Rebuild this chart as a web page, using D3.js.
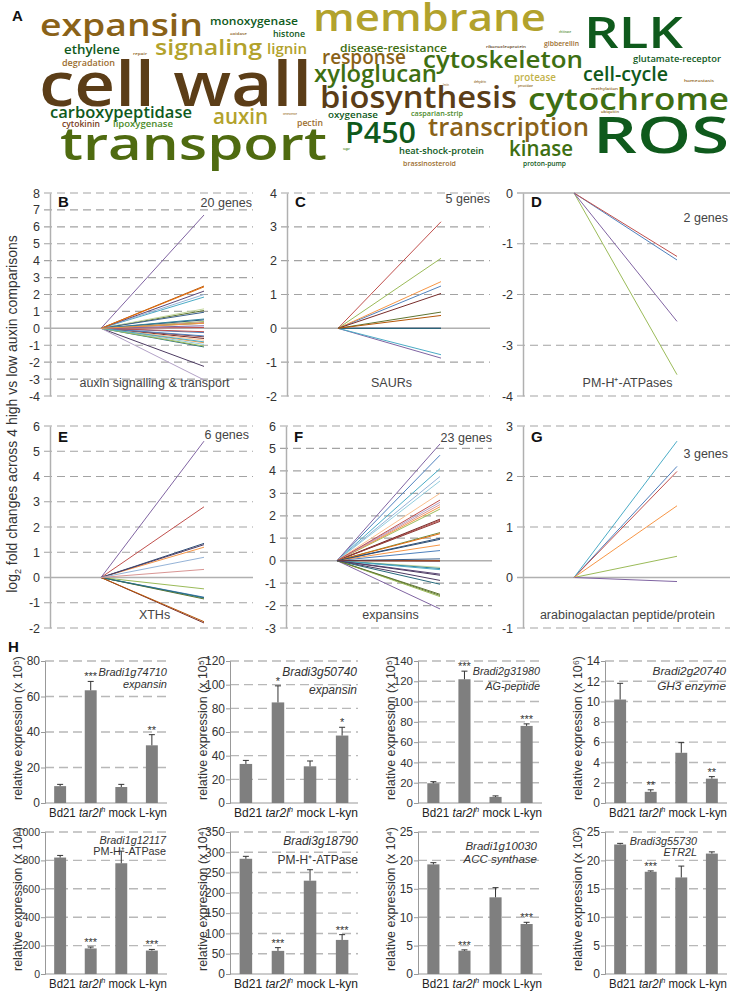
<!DOCTYPE html>
<html>
<head>
<meta charset="utf-8">
<script src="https://cdn.jsdelivr.net/npm/d3@7"></script>
<style>
  body { margin: 0; background: #fff; }
  svg text { font-family: "Liberation Sans", Arial, Helvetica, sans-serif; }
</style>
</head>
<body>
<div id="fig"></div>
<script>
const W = 732, H = 991;

// ---------- A: word cloud ----------
const cloudWords = ["cell wall","transport","membrane","ROS","RLK","expansin","cytochrome","biosynthesis",
  "transcription","cytoskeleton","xyloglucan","P450","signaling","auxin","kinase","cell-cycle","response",
  "carboxypeptidase","lignin","ethylene","monoxygenase","disease-resistance","protease","histone",
  "glutamate-receptor","heat-shock-protein","oxygenase","degradation","pectin","cytokinin","lipoxygenase",
  "gibberellin","casparian-strip","brassinosteroid","proton-pump","ribonucleoprotein","homeostasis",
  "methylation","ubiquitin","oxidase","repair","chitinase","senescence","sugar","lectin","dehydrin","peroxidase"];
const cloudCounts = [62,46,37,50,44,30,31,30,26,24,24,28,21,21,21,20,20,16,14,12,11,11,10,9.5,9.5,9.5,9.5,
  9,9,8.5,8.5,7.5,7.5,7.5,7.5,4,4,4,4,3.5,3.5,3,3,3,3,3,3];

// ---------- B-G: log2 fold changes ----------
const lineLetters = ["B","C","D","E","F","G"];
const lineGenes = ["20 genes","5 genes","2 genes","6 genes","23 genes","3 genes"];
const lineGroups = ["auxin signalling & transport","SAURs","PM-H\u207A-ATPases","XTHs","expansins","arabinogalactan peptide/protein"];
const lineDomains = [[-4,8],[-2,4],[-4,0],[-2,6],[-3,6],[-1,3]];
const foldB = [-0.25,0.05,0.4,6.7,1.85,-0.85,0.5,-0.6,1.05,-2.25,-1.1,2.5,2.0,0.35,1.15,-3.05,-0.95,-0.7,
  0.95,-0.5,0.3,2.2,0.55,2.45,-0.45,-0.2,-1.05,0.15,-0.8,0.3];
const foldC = [1.25,3.15,2.07,-0.88,-0.78,1.38,0.0,1.03,0.48,0.0,0.0,0.38];
const foldD = [-1.32,-1.25,-3.58,-2.53];
const foldE = [-0.78,2.8,-0.45,5.4,-0.82,1.2,1.35,-1.8,-0.85,1.3,-0.8,-1.75,0.8,0.32];
const foldF = [4.7,1.8,2.3,5.2,4.1,2.4,1.0,1.85,-1.55,-0.88,-1.05,0.0,3.75,2.5,-0.3,2.6,3.55,3.0,
  0.08,1.75,1.25,-0.6,-0.35,1.2,0.45,2.7,-1.6,-2.15,-0.4,0.7,0.95,-0.02,-1.5,-0.65];
const foldG = [2.2,2.1,0.42,-0.08,2.7,1.42];

// ---------- H: qRT-PCR bars ----------
const barCats = ["Bd21","tar2lh","mock","L-kyn"];
const barGenes = ["Bradi1g74710","Bradi3g50740","Bradi2g31980","Bradi2g20740",
  "Bradi1g12117","Bradi3g18790","Bradi1g10030","Bradi3g55730"];
const barNames = ["expansin","expansin","AG-peptide","GH3 enzyme","PM-H\u207A-ATPase","PM-H\u207A-ATPase","ACC synthase","ETR2L"];
const barExp = ["\u2075","\u2075","\u2075","\u2076","\u2074","\u2074","\u2074","\u00B2"];
const barMeans = [[9.5,63.5,9,32.5],[33,85,31,57],[19.5,122,6,76],[10.2,1.1,4.95,2.4],
  [820,180,780,165],[284,57,230,84],[19.3,4.1,13.5,8.8],[22.8,18,17,21.2]];
const barErrs = [[1,5,1.5,6],[3,14,4.5,7],[1.5,8,1,2],[1.6,0.2,1,0.2],
  [15,10,85,8],[6,8,27,13],[0.3,0.15,1.7,0.3],[0.2,0.15,2,0.3]];
const barStars = [["","***","","**"],["","*","","*"],["","***","","***"],["","**","","**"],
  ["","***","","***"],["","***","","***"],["","***","","***"],["","***","",""]];
const barMax = [80,120,140,14,1000,350,25,25];
const barStep = [20,20,20,2,200,50,5,5];

// ---------- layout & styles ----------
const cloudTones = ["#5b3d17","#8a6218","#b2a22c","#0f5a1c","#3e6f12","#4b8b2b","#9c6e2e","#7a3c1c","#4f6b10","#c2b24a"];
const cloudLayout = [
  [39,106,273,0],[60,160,267,8],[313,31,233,2],[593,153,136,3],[584,48,99,3],[40,36,163,1],
  [528,110,201,4],[320,108,197,0],[428,136,161,1],[423,68,160,4],[314,82,123,4],[345,143,71,3],
  [155,55,107,2],[213,124,55,2],[509,156,64,4],[583,81,85,3],[322,64,84,1],[50,118,142,3],
  [267,54,40,2],[64,54,56,3],[210,25,88,3],[340,52,107,4],[514,81,42,9],[273,37,32,3],
  [633,62,88,3],[399,154,85,3],[328,118,50,3],[62,66,53,6],[297,126,26,6],[62,127,38,7],
  [113,127,60,5],[544,46,35,6],[411,116,52,5],[403,166,53,6],[523,166,43,3],[486,48,40,0],
  [684,82,30,1],[591,90,27,1],[601,113,18,1],[230,35,17,1],[133,55,14,1],[559,33,12,5],
  [283,115,14,6],[343,150,7,5],[443,86,6,6],[474,83,12,1],[518,87,15,1]
];
const lineColors = ["#4f81bd","#c0504d","#9bbb59","#8064a2","#4bacc6","#f79646",
  "#2c4d75","#772c2a","#5f7530","#4d3b62","#276a7c","#b65708",
  "#95b3d7","#d99694","#c3d69b","#b3a2c7","#93cddd","#fac08f",
  "#3a5f8b","#8f3b38","#71893f","#5c4776","#31849b","#e46c0a"];
const linePos = [
  {x0:50, x1:253, top:193, bottom:396, gx:252, gy:14},
  {x0:287,x1:490, top:193, bottom:396, gx:490, gy:10},
  {x0:523,x1:730, top:193, bottom:396, gx:728, gy:29},
  {x0:50, x1:253, top:426, bottom:628, gx:249, gy:13},
  {x0:286,x1:492, top:426, bottom:628, gx:492, gy:16},
  {x0:523,x1:730, top:426, bottom:628, gx:728, gy:32}
];
const barPos = [
  {x0:45, x1:167, top:661, bottom:803, tx:167, ty:[676,688], fs:11,   tk:12},
  {x0:230,x1:358, top:661, bottom:803, tx:357, ty:[676,694], fs:12,   tk:12},
  {x0:418,x1:542, top:661, bottom:803, tx:540, ty:[675,690], fs:10.8, tk:11.5},
  {x0:605,x1:727, top:661, bottom:803, tx:726, ty:[675,690], fs:11.8, tk:12},
  {x0:45, x1:167, top:832, bottom:974, tx:166, ty:[844,855], fs:10.8, tk:10.5},
  {x0:230,x1:358, top:832, bottom:974, tx:358, ty:[845,864], fs:12,   tk:12},
  {x0:418,x1:542, top:832, bottom:974, tx:537, ty:[850,863], fs:11.5, tk:12},
  {x0:605,x1:727, top:832, bottom:974, tx:697, ty:[845,856], fs:10.8, tk:12}
];

const svg = d3.select("#fig").append("svg")
  .attr("width", W).attr("height", H)
  .style("background", "#fff");

// panel letters A and H
svg.append("text").attr("x", 12).attr("y", 21).attr("font-size", 15).attr("font-weight", "bold").attr("fill", "#111").text("A");
svg.append("text").attr("x", 8).attr("y", 652).attr("font-size", 15).attr("font-weight", "bold").attr("fill", "#111").text("H");

// word cloud
const fontScale = d3.scaleLinear().domain([0, d3.max(cloudCounts)]).range([0, 62]);
svg.append("g").selectAll("text")
  .data(cloudWords)
  .join("text")
  .attr("x", (d, i) => cloudLayout[i][0])
  .attr("y", (d, i) => cloudLayout[i][1])
  .attr("textLength", (d, i) => cloudLayout[i][2])
  .attr("lengthAdjust", "spacingAndGlyphs")
  .attr("font-size", (d, i) => fontScale(cloudCounts[i]))
  .attr("fill", (d, i) => cloudTones[cloudLayout[i][3]])
  .attr("font-weight", 600)
  .style("font-family", "'Open Sans', sans-serif")
  .text(d => d);

// shared y label of B-G
const ylab = svg.append("text")
  .attr("transform", "translate(17,414) rotate(-90)")
  .attr("text-anchor", "middle")
  .attr("font-size", 14)
  .attr("fill", "#333");
ylab.append("tspan").text("log");
ylab.append("tspan").attr("dy", 4).attr("font-size", 9).text("2");
ylab.append("tspan").attr("dy", -4).text(" fold changes across 4 high vs low auxin comparisons");

// line panels
const foldSets = [foldB, foldC, foldD, foldE, foldF, foldG];
const color = d3.scaleOrdinal().range(lineColors);

foldSets.forEach(function(vals, k) {
  const p = linePos[k];
  const dom = lineDomains[k];
  const y = d3.scaleLinear().domain(dom).range([p.bottom, p.top]);
  const x = d3.scaleLinear().domain([0, 1]).range([p.x0 + 51, p.x0 + 154]);
  const ticks = d3.range(dom[0], dom[1] + 1);
  const g = svg.append("g");

  // gridlines
  g.selectAll("line.grid")
    .data(ticks.filter(t => t !== 0))
    .join("line")
    .attr("x1", p.x0 - 6).attr("x2", p.x1)
    .attr("y1", d => y(d)).attr("y2", d => y(d))
    .attr("stroke", "#a3a3a3").attr("stroke-width", 1.2)
    .attr("stroke-dasharray", "8,5");

  g.append("line")
    .attr("x1", p.x0 - 6).attr("x2", p.x1)
    .attr("y1", y(0)).attr("y2", y(0))
    .attr("stroke", "#b0b0b0").attr("stroke-width", 1.5);

  const ax = g.append("g")
    .attr("transform", "translate(" + p.x0 + ",0)")
    .call(d3.axisLeft(y).tickValues(ticks).tickSize(0).tickPadding(10).tickFormat(d => String(d)));
  ax.select(".domain").attr("stroke", "#b0b0b0").attr("stroke-width", 1.5);
  ax.selectAll("text").attr("font-size", 12.5).attr("fill", "#333")
    .style("font-family", "'Liberation Sans', Arial, sans-serif");

  // gene lines
  g.selectAll("line.gene")
    .data(vals)
    .join("line")
    .attr("x1", x(0)).attr("y1", y(0))
    .attr("x2", x(1)).attr("y2", d => y(d))
    .attr("stroke", (d, i) => color(i))
    .attr("stroke-width", 1);

  g.append("text")
    .attr("x", p.x0 + 8).attr("y", p.top + (k < 3 ? 14 : 16))
    .attr("font-size", 15).attr("font-weight", "bold").attr("fill", "#111")
    .text(lineLetters[k]);

  g.append("text")
    .attr("x", p.gx).attr("y", p.top + p.gy)
    .attr("text-anchor", "end")
    .attr("font-size", 12.5).attr("fill", "#444")
    .text(lineGenes[k]);

  g.append("text")
    .attr("x", (x(0) + x(1)) / 2 + 2).attr("y", p.bottom - 9)
    .attr("text-anchor", "middle")
    .attr("font-size", 12.5).attr("fill", "#444")
    .text(lineGroups[k]);
});

// bar panels
barMeans.forEach(function(means, k) {
  const p = barPos[k];
  const y = d3.scaleLinear().domain([0, barMax[k]]).range([p.bottom, p.top]);
  const x = d3.scaleBand().domain(barCats).range([p.x0, p.x1]).paddingInner(0.61).paddingOuter(0.3);
  const ticks = d3.range(0, barMax[k] + barStep[k] / 2, barStep[k]);
  const g = svg.append("g");
  const rows = barCats.map((c, i) => ({cat: c, v: means[i], e: barErrs[k][i], s: barStars[k][i]}));

  g.selectAll("line.grid")
    .data(ticks.filter(t => t > 0))
    .join("line")
    .attr("x1", p.x0).attr("x2", p.x1)
    .attr("y1", d => y(d)).attr("y2", d => y(d))
    .attr("stroke", "#b8b8b8").attr("stroke-width", 1.4)
    .attr("stroke-dasharray", "9,5");

  const ax = g.append("g")
    .attr("transform", "translate(" + p.x0 + ",0)")
    .call(d3.axisLeft(y).tickValues(ticks).tickSize(4).tickPadding(1).tickFormat(d => String(d)));
  ax.select(".domain").attr("stroke", "#999");
  ax.selectAll(".tick line").attr("stroke", "#999");
  ax.selectAll("text").attr("font-size", p.tk).attr("fill", "#333")
    .style("font-family", "'Liberation Sans', Arial, sans-serif");

  g.append("line")
    .attr("x1", p.x0).attr("x2", p.x1)
    .attr("y1", y(0)).attr("y2", y(0))
    .attr("stroke", "#999");

  g.selectAll("rect")
    .data(rows)
    .join("rect")
    .attr("x", d => x(d.cat)).attr("width", x.bandwidth())
    .attr("y", d => y(d.v)).attr("height", d => y(0) - y(d.v))
    .attr("fill", "#7f7f7f");

  g.selectAll("line.err")
    .data(rows)
    .join("line")
    .attr("x1", d => x(d.cat) + x.bandwidth() / 2).attr("x2", d => x(d.cat) + x.bandwidth() / 2)
    .attr("y1", d => y(d.v)).attr("y2", d => y(d.v + d.e))
    .attr("stroke", "#333");
  g.selectAll("line.cap")
    .data(rows)
    .join("line")
    .attr("x1", d => x(d.cat) + x.bandwidth() / 2 - 3).attr("x2", d => x(d.cat) + x.bandwidth() / 2 + 3)
    .attr("y1", d => y(d.v + d.e)).attr("y2", d => y(d.v + d.e))
    .attr("stroke", "#333");

  g.selectAll("text.star")
    .data(rows.filter(d => d.s))
    .join("text")
    .attr("x", d => x(d.cat) + x.bandwidth() / 2)
    .attr("y", d => y(d.v + d.e) - 1)
    .attr("text-anchor", "middle")
    .attr("font-size", 11).attr("fill", "#333")
    .text(d => d.s);

  // category labels, set as one justified line like the original
  const cl = g.append("text")
    .attr("x", p.x0 + 4)
    .attr("y", p.bottom + 14)
    .attr("textLength", p.x1 - p.x0 - 4)
    .attr("lengthAdjust", "spacingAndGlyphs")
    .attr("font-size", 12.5).attr("fill", "#222");
  cl.append("tspan").text(barCats[0] + " ");
  cl.append("tspan").attr("font-style", "italic").text(barCats[1].slice(0, 5));
  cl.append("tspan").attr("font-style", "italic").attr("font-size", 8).attr("dy", -5).text(barCats[1].slice(5));
  cl.append("tspan").attr("dy", 5).text(" " + barCats[2] + " " + barCats[3]);

  // y label
  g.append("text")
    .attr("transform", "translate(" + (p.x0 - 23) + "," + ((p.top + p.bottom) / 2 - 4) + ") rotate(-90)")
    .attr("x", -72)
    .attr("textLength", 144)
    .attr("lengthAdjust", "spacingAndGlyphs")
    .attr("font-size", 12.5).attr("fill", "#333")
    .text("relative expression (x 10" + barExp[k] + ")");

  // gene title
  g.append("text")
    .attr("x", p.tx).attr("y", p.ty[0])
    .attr("text-anchor", "end").attr("font-style", "italic")
    .attr("font-size", p.fs).attr("fill", "#333")
    .text(barGenes[k]);
  g.append("text")
    .attr("x", p.tx).attr("y", p.ty[1])
    .attr("text-anchor", "end")
    .attr("font-style", (k === 4 || k === 5) ? "normal" : "italic")
    .attr("font-size", p.fs).attr("fill", "#333")
    .text(barNames[k]);
});
</script>
</body>
</html>
